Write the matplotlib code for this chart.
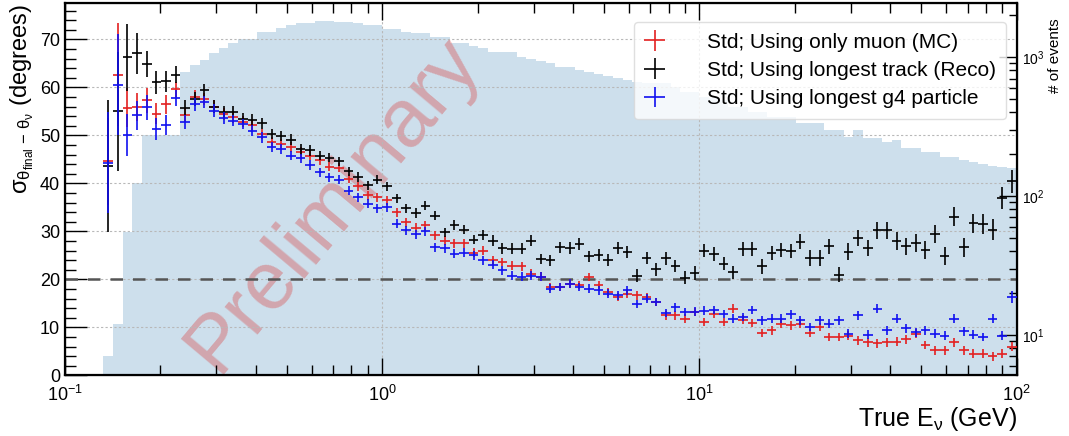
import numpy as np
import matplotlib
matplotlib.use('Agg')
import matplotlib.pyplot as plt
from matplotlib.ticker import MultipleLocator, LogLocator, NullFormatter, LogFormatterMathtext

plt.rcParams['font.family'] = ['Liberation Sans', 'DejaVu Sans']
plt.rcParams['mathtext.fontset'] = 'custom'
plt.rcParams['mathtext.rm'] = 'Liberation Sans'
plt.rcParams['mathtext.it'] = 'Liberation Sans:italic'
plt.rcParams['mathtext.bf'] = 'Liberation Sans:bold'

# 99 log bins from 0.1 to 100 GeV, first filled bin is index 4
n_bins = 99
first_bin = 4

# events per bin (right axis)
events = [0, 0, 0, 0, 7, 12, 55, 124, 275, 275, 275, 275, 780, 875, 950, 1070, 1160, 1260, 1345, 1345,
          1515, 1515, 1620, 1700, 1760, 1760, 1815, 1815, 1790, 1790, 1760, 1700, 1700, 1590, 1590, 1515,
          1490, 1490, 1395, 1395, 1260, 1260, 1200, 1160, 1086, 1086, 1086, 1000, 968, 935, 905, 847, 847,
          806, 780, 755, 730, 706, 683, 661, 650, 650, 650, 608, 560, 560, 515, 507, 491, 437, 437, 402,
          402, 370, 370, 370, 335, 335, 335, 298, 298, 266, 298, 261, 261, 244, 253, 221, 221, 207, 207,
          191, 191, 182, 176, 170, 164, 162, 159]

muon_mc = [44.6, 62.7, 55.8, 55.9, 57.3, 54.5, 56.5, 59.6, 54.2, 58.0,
           57.6, 56.0, 54.5, 53.8, 52.9, 52.2, 50.3, 48.6, 48.3, 47.6,
           46.5, 45.8, 44.8, 43.5, 43.3, 41.0, 39.4, 37.5, 37.1, 36.5,
           34.0, 31.9, 30.8, 31.3, 29.2, 28.1, 27.5, 27.5, 25.6, 26.0,
           24.0, 23.6, 22.9, 22.7, 21.2, 20.6, 18.4, 18.4, 19.1, 18.8,
           20.5, 18.8, 17.4, 16.3, 17.0, 16.7, 16.3, 15.3, 12.5, 12.5,
           11.8, 13.2, 11.1, 12.8, 11.1, 13.9, 11.6, 10.9, 8.8, 9.4,
           10.8, 10.4, 10.8, 8.8, 10.1, 8.0, 8.0, 8.3, 7.3, 6.9,
           6.7, 6.9, 7.0, 7.5, 8.7, 6.3, 5.2, 5.2, 6.9, 5.2,
           4.5, 4.5, 4.0, 4.5, 6.0]
muon_mc_err = [9.0, 10.8, 4.0, 2.9, 2.6, 2.2, 2.0, 1.6, 1.5, 1.4,
               1.3, 1.3, 1.2, 1.2, 1.1, 1.1, 1.1, 1.0, 1.0, 1.0,
               1.0, 1.0, 1.0, 0.9, 0.9, 0.9, 0.9, 0.9, 0.9, 0.9,
               0.9, 0.9, 0.9, 0.9, 0.9, 0.9, 0.9, 0.9, 0.9, 0.9,
               0.9, 0.9, 0.9, 0.9, 0.9, 0.9, 0.9, 0.9, 0.9, 0.9,
               0.9, 0.9, 0.9, 0.9, 0.9, 0.9, 0.9, 0.9, 0.9, 0.9,
               0.9, 0.9, 0.9, 0.9, 0.9, 0.9, 0.9, 0.9, 0.9, 0.9,
               0.9, 0.9, 0.9, 0.9, 0.9, 0.9, 0.9, 0.9, 0.9, 0.9,
               0.9, 0.9, 0.9, 0.9, 0.9, 0.9, 0.9, 0.9, 0.9, 0.9,
               0.9, 0.9, 0.9, 0.9, 1.0]

longest_track = [43.6, 55.0, 66.3, 67.1, 64.9, 61.1, 61.3, 62.7, 55.8, 57.6,
                 59.4, 56.0, 54.9, 54.9, 53.5, 53.2, 52.5, 50.3, 49.9, 49.1,
                 47.1, 46.9, 45.8, 45.4, 44.6, 42.5, 41.3, 39.6, 40.8, 39.4,
                 36.9, 34.8, 33.8, 35.4, 33.3, 29.8, 31.3, 30.4, 28.3, 29.2,
                 28.1, 26.5, 26.4, 26.4, 28.1, 24.3, 24.0, 26.7, 26.5, 27.4,
                 24.8, 25.1, 24.0, 26.6, 25.7, 20.8, 24.5, 22.1, 24.4, 22.8,
                 20.4, 21.3, 26.0, 25.3, 23.3, 21.5, 26.4, 26.3, 22.7, 25.5,
                 26.1, 25.9, 27.9, 24.5, 24.5, 26.9, 21.0, 25.8, 28.7, 26.6,
                 30.2, 30.2, 28.0, 26.9, 27.6, 26.2, 29.5, 24.9, 33.1, 26.7,
                 31.7, 31.5, 30.4, 37.0, 40.5]
longest_track_err = [13.7, 12.4, 7.0, 4.3, 2.8, 2.4, 2.2, 1.8, 1.6, 1.5,
                     1.4, 1.4, 1.3, 1.3, 1.2, 1.2, 1.2, 1.1, 1.1, 1.1,
                     1.1, 1.1, 1.0, 1.0, 1.0, 1.0, 1.0, 1.0, 1.0, 1.0,
                     1.0, 1.0, 1.0, 1.0, 1.0, 1.0, 1.0, 1.0, 1.0, 1.0,
                     1.1, 1.1, 1.1, 1.1, 1.1, 1.1, 1.1, 1.2, 1.2, 1.2,
                     1.2, 1.2, 1.2, 1.3, 1.3, 1.3, 1.3, 1.3, 1.3, 1.3,
                     1.4, 1.4, 1.4, 1.4, 1.4, 1.4, 1.5, 1.5, 1.5, 1.5,
                     1.5, 1.5, 1.6, 1.6, 1.6, 1.6, 1.6, 1.7, 1.7, 1.7,
                     1.7, 1.8, 1.8, 1.8, 1.8, 1.9, 1.9, 1.9, 2.0, 2.0,
                     2.0, 2.1, 2.2, 2.3, 2.4]

longest_g4 = [44.3, 60.6, 50.1, 54.2, 55.9, 51.4, 52.1, 57.8, 52.8, 56.5,
              57.0, 55.2, 53.6, 53.1, 52.4, 51.0, 49.6, 47.6, 47.2, 45.8,
              45.2, 43.8, 42.3, 41.3, 40.8, 38.5, 37.1, 35.8, 34.8, 35.0,
              31.6, 30.2, 29.4, 30.0, 26.7, 26.5, 25.4, 25.6, 25.0, 24.0,
              23.1, 21.9, 20.8, 20.6, 20.8, 20.6, 18.1, 18.4, 19.1, 18.4,
              18.1, 17.7, 17.0, 16.7, 17.7, 14.9, 16.0, 15.3, 13.0, 14.2,
              13.2, 13.3, 13.5, 13.6, 12.8, 11.8, 12.2, 13.6, 11.5, 11.8,
              11.8, 12.7, 11.5, 10.1, 11.5, 10.8, 11.5, 8.7, 12.5, 8.5,
              13.9, 9.4, 11.8, 9.8, 9.0, 9.4, 8.7, 8.3, 11.8, 9.2,
              8.5, 8.0, 11.8, 8.3, 16.3]
longest_g4_err = [10.5, 10.6, 4.4, 3.0, 2.6, 2.3, 2.1, 1.7, 1.5, 1.4,
                  1.3, 1.3, 1.2, 1.2, 1.1, 1.1, 1.1, 1.0, 1.0, 1.0,
                  1.0, 1.0, 1.0, 0.9, 0.9, 0.9, 0.9, 0.9, 0.9, 0.9,
                  0.9, 0.9, 0.9, 0.9, 0.9, 0.9, 0.9, 0.9, 0.9, 0.9,
                  0.9, 0.9, 0.9, 0.9, 0.9, 0.9, 0.9, 0.9, 0.9, 0.9,
                  0.9, 0.9, 0.9, 0.9, 0.9, 0.9, 0.9, 0.9, 0.9, 0.9,
                  0.9, 0.9, 0.9, 0.9, 0.9, 0.9, 0.9, 0.9, 0.9, 0.9,
                  0.9, 0.9, 0.9, 0.9, 0.9, 0.9, 0.9, 0.9, 0.9, 0.9,
                  0.9, 0.9, 0.9, 0.9, 0.9, 0.9, 0.9, 0.9, 0.9, 0.9,
                  0.9, 0.9, 0.9, 0.9, 1.2]

labels = ['Std; Using only muon (MC)',
          'Std; Using longest track (Reco)',
          'Std; Using longest g4 particle']
colors = ['#e32020', 'black', '#1010f0']

edges = np.logspace(-1, 2, n_bins + 1)
lo = edges[first_bin:-1]
hi = edges[first_bin + 1:]
centers = np.sqrt(lo * hi)
xerr = [centers - lo, hi - centers]

fig = plt.figure(figsize=(10.69, 4.36), dpi=100)
ax = fig.add_axes([0.0608, 0.139, 0.8903, 0.853])
ax2 = ax.twinx()
ax.set_zorder(ax2.get_zorder() + 1)
ax.patch.set_visible(False)

# event histogram on the log right axis
ax2.bar(edges[:-1], events, width=np.diff(edges), align='edge', color='#cddfec', linewidth=0)
ax2.set_yscale('log')
ax2.set_ylim(5.1, 2430)
ax2.yaxis.set_major_locator(LogLocator(base=10))
ax2.yaxis.set_minor_locator(LogLocator(base=10, subs=np.arange(2, 10)))
ax2.yaxis.set_major_formatter(LogFormatterMathtext())
ax2.yaxis.set_minor_formatter(NullFormatter())
ax2.tick_params(axis='y', which='major', direction='in', length=13, width=1, labelsize=10, pad=4)
ax2.tick_params(axis='y', which='minor', direction='in', length=6, width=1)
ax2.set_ylabel('# of events', fontsize=11, loc='top')
ax2.yaxis.set_label_coords(1.033, 0.96)

ax.set_xscale('log')
ax.set_xlim(0.1, 100)
ax.set_ylim(0, 77.5)
ax.grid(True, which='major', linestyle=(0, (2, 2)), color='#b8b8b8', linewidth=0.8)
ax.axhline(20, color='#555555', linestyle=(0, (5, 4)), linewidth=1.8, zorder=2)

ax.text(0.282, 0.46, 'Preliminary', transform=ax.transAxes, rotation=50,
        fontsize=59, color='#d84848', alpha=0.38, ha='center', va='center', zorder=1)

series = [(muon_mc, muon_mc_err), (longest_track, longest_track_err), (longest_g4, longest_g4_err)]
handles = []
for (vals, errs), col, lab in zip(series, colors, labels):
    h = ax.errorbar(centers, vals, xerr=xerr, yerr=errs, fmt='none', ecolor=col,
                    elinewidth=1.2, capsize=0, label=lab, zorder=3)
    handles.append(h)

ax.xaxis.set_minor_locator(LogLocator(base=10, subs=np.arange(2, 10)))
ax.xaxis.set_minor_formatter(NullFormatter())
ax.yaxis.set_major_locator(MultipleLocator(10))
ax.yaxis.set_minor_locator(MultipleLocator(2))
ax.tick_params(axis='x', which='major', direction='in', top=True, bottom=True, length=12, width=1,
               labelsize=13, pad=7)
ax.tick_params(axis='x', which='minor', direction='in', top=True, bottom=True, length=7, width=1)
ax.tick_params(axis='y', which='major', direction='in', left=True, right=False, length=16, width=1,
               labelsize=13)
ax.tick_params(axis='y', which='minor', direction='in', left=True, right=False, length=8, width=1)
for sp in ax.spines.values():
    sp.set_linewidth(1.6)

ax.set_xlabel(r'True E$_{\mathrm{\nu}}$ (GeV)', fontsize=18, loc='right', labelpad=0)
ax.set_ylabel(r'σ$_{\mathrm{\theta_{final}\,-\,\theta_{\nu}}}$ (degrees)', fontsize=17, loc='top')
ax.yaxis.set_label_coords(-0.03, 1.0)

leg = ax.legend(handles=handles, loc='upper right', bbox_to_anchor=(0.989, 0.95), fontsize=15,
                frameon=True, fancybox=True, framealpha=0.8, edgecolor='#d8d8d8',
                labelspacing=0.45, handlelength=1.0, handletextpad=2.0, borderpad=0.5,
                borderaxespad=0)
leg.set_zorder(5)

fig.savefig('out.png', dpi=100)
